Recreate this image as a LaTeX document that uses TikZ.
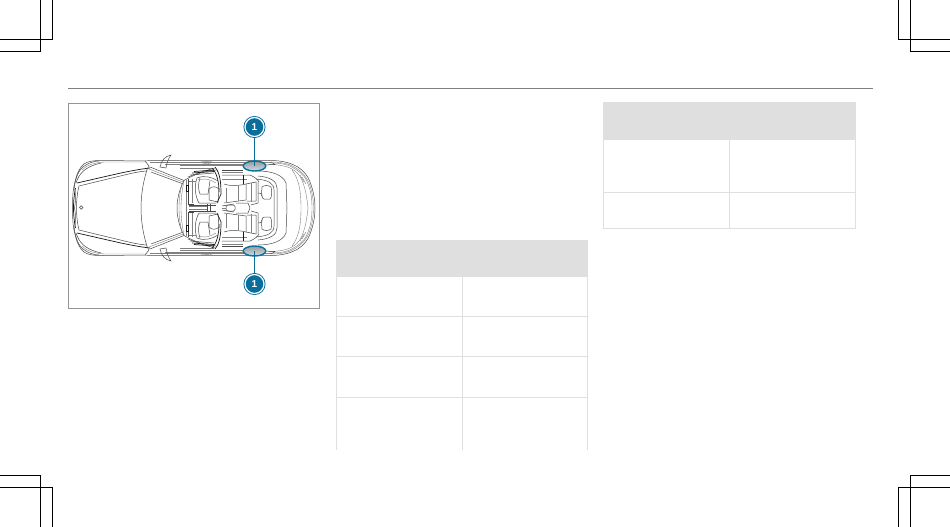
\documentclass[tikz,border=0pt]{standalone}
\usepackage{fontspec}
\usepackage{tikz}
\usetikzlibrary{calc,positioning,shapes.geometric}
\setsansfont{Liberation Sans}
\definecolor{calloutblue}{HTML}{0A6E9B}
\definecolor{tablegrey}{HTML}{DFDFDF}
\tikzset{
	cropline/.style={black,line width=1pt},
	ruleline/.style={draw=black!50,line width=.9pt},
	frameline/.style={draw=black!42,line width=.9pt},
	tableline/.style={draw=tablegrey,line width=1pt},
	carline/.style={black!72,line width=.5pt},
	cardark/.style={black!90,line width=.7pt},
	carthin/.style={black!50,line width=.4pt},
	spot/.style={ellipse,draw=calloutblue,line width=1.4pt,minimum width=22.5pt,minimum height=10pt,inner sep=0pt,top color=black!40,bottom color=calloutblue!22},
	badge/.style={circle,draw=calloutblue,fill=calloutblue,double=white,double distance=1.2pt,line width=.9pt,minimum size=19pt,inner sep=0pt,text=white,font=\sffamily\bfseries\fontsize{10}{10}\selectfont},
	leader/.style={calloutblue,line width=1.2pt},
}
\begin{document}
\begin{tikzpicture}[x=1pt,y=-1pt]
	\useasboundingbox (0,0) rectangle (950,527);

	\draw[cropline] (0,40) -- (52,40);
	\draw[cropline] (0,52) -- (40,52);
	\draw[cropline] (40,0) -- (40,52);
	\draw[cropline] (52,0) -- (52,40);
	\draw[cropline] (0,475) -- (40,475) -- (40,527);
	\draw[cropline] (0,487) -- (52,487) -- (52,527);
	\draw[cropline] (950,40) -- (898,40);
	\draw[cropline] (950,52) -- (910,52);
	\draw[cropline] (898,0) -- (898,40);
	\draw[cropline] (910,0) -- (910,52);
	\draw[cropline] (950,475) -- (910,475) -- (910,527);
	\draw[cropline] (950,487) -- (898,487) -- (898,527);

	\draw[ruleline] (68,88) -- (873,88);
	\draw[frameline] (68.5,103.5) rectangle (319.5,308);

	\fill[tablegrey] (336,240) rectangle (588,277);
	\draw[tableline] (336.5,277) -- (336.5,450);
	\draw[tableline] (462.5,277) -- (462.5,450);
	\draw[tableline] (587.5,277) -- (587.5,450);
	\foreach \rowy in {316.5,356.5,397.5}
		\draw[tableline] (336.5,\rowy) -- (587.5,\rowy);

	\fill[tablegrey] (603,102) rectangle (856,139.5);
	\draw[tableline] (603.5,139.5) -- (603.5,229);
	\draw[tableline] (729.5,139.5) -- (729.5,229);
	\draw[tableline] (855.5,139.5) -- (855.5,229);
	\draw[tableline] (603,192.5) -- (856,192.5);
	\draw[tableline] (603,228.5) -- (856,228.5);

	\foreach \s in {1,-1} {
		\begin{scope}[shift={(0,208)},yscale=\s]
			% body
			\draw[carline] (72.5,0) .. controls (72.5,10) and (73,20) .. (75,26) .. controls (77,35) and (80,41) .. (84,44) .. controls (88,47) and (94,47.5) .. (103,47.5) -- (145,47) -- (150,47.5) -- (270,47.5) .. controls (285,47.5) and (292,44) .. (297,41.5) .. controls (304,37) and (308,32) .. (310,26) .. controls (313,18) and (315,10) .. (315,0);
			\draw[carthin] (270,46) .. controls (285,46) and (291,43) .. (296,40) .. controls (303,35.5) and (307,30) .. (309,25) .. controls (312,17) and (313.5,9) .. (313.5,0);
			\draw[carthin] (270,45) .. controls (285,45) and (290,42.5) .. (296,38.5) .. controls (303,34) and (306,30) .. (308,24) .. controls (311,17) and (312,9) .. (312,0);
			\draw[carthin] (268,43.5) .. controls (282,43.5) and (290,41) .. (295,37) .. controls (302,32) and (306,20) .. (308,0);
			\draw[carthin] (150,45.5) -- (245,45.5);
			\draw[carthin] (165,44) -- (245,44);
			\draw[carthin] (180,42.5) -- (243,42.5);
			% front
			\draw[carline] (74,18) .. controls (75,30) and (79,38) .. (83,41) .. controls (88,45) and (94,47) .. (99,47);
			\draw[carline] (76,25) .. controls (79,34) and (84,41) .. (101,45);
			\draw[carthin] (82,38) .. controls (86,42) and (92,45) .. (104,46) -- (145,46);
			\draw[cardark] (77,25) -- (112,33) .. controls (125,36) and (140,39) .. (150,40);
			\draw[carline] (79,22) -- (112,30) .. controls (125,33) and (135,36) .. (146,37);
			\draw[carline] (79,22) .. controls (77,14) and (76.5,6) .. (76.5,0);
			\draw[cardark] (75.5,20) .. controls (74,12) and (73.5,6) .. (73.5,0);
			\draw[carline] (75,17) .. controls (75.5,12) and (76,8) .. (74.5,0);
			\draw[carline] (147,38) .. controls (143,26) and (141,12) .. (141,0);
			\draw[carline] (145,47) -- (149,42) -- (146.5,37.5);
			% mirror
			\draw[carline] (160,41) .. controls (161,47) and (165,52) .. (171,53) .. controls (168,49) and (167,45) .. (166,40) -- cycle;
			% pillar
			\draw[carline] (150,41) -- (184,27.5);
			\draw[carline] (151,36) -- (182,24.5);
			\draw[carthin] (149,39) -- (183,26);
			\draw[carline] (184,27.5) .. controls (179,18) and (177,8) .. (177,0);
			\draw[carthin] (182,24.5) .. controls (180,16) and (179,8) .. (179,0);
			\draw[carthin] (184,27) .. controls (182,18) and (181,8) .. (181,0);
			\draw[carthin] (186,28) -- (186,0);
			\draw[carline] (188,29) -- (188,4) -- (194,4);
			\draw[cardark] (186,23) -- (186,17) -- (188,17) -- (188,23) -- cycle;
			% dark bundle to the hoop
			\draw[carline] (184,27.5) .. controls (195,34) and (205,37) .. (216,38);
			\draw[carline] (188,31) .. controls (198,35) and (207,38) .. (215,40);
			\draw[cardark] (192,35) -- (214,36.5);
			\draw[cardark] (194,36.5) -- (214,38);
			\draw[carline] (190,33) -- (214,35);
			\draw[carthin] (180,40) -- (214,40);
			\draw[carthin] (200,45.8) .. controls (205,47) and (209,47) .. (213,45.8) .. controls (209,44) and (205,44) .. (200,45.8);
			% front seat
			\draw[carline] (197,30) .. controls (194,22) and (195,12) .. (199,5) -- (216,5);
			\draw[carline] (200,30) .. controls (198,24) and (198,19) .. (200,14) -- (208,14) -- (210,27);
			\draw[carthin] (192,29) -- (192,5);
			\draw[carthin] (189,27) -- (196,27);
			\draw[carline] (197,30) .. controls (204,33) and (212,31) .. (218,27);
			\draw[carthin] (198,28) .. controls (204,30) and (210,29) .. (216,25);
			\draw[carline] (209,19) -- (209,8) -- (218,6) -- (219,19) .. controls (216,22) and (212,22) .. (209,19);
			\draw[cardark] (212,40) .. controls (217,35) and (219,26) .. (219,16);
			\draw[cardark] (215,41) .. controls (220,35) and (221,26) .. (221,14) -- (217,5);
			\draw[carline] (189,3) -- (216,3);
			\draw[carthin] (189,1.5) -- (207,1.5);
			\draw[carline] (207,0) -- (207,4);
			\draw[carline] (210,0) -- (210,4);
			% rear
			\draw[carline] (222,38) -- (243,38);
			\draw[carthin] (222,36) -- (243,36);
			\draw[carline] (222,33) -- (250,33) .. controls (255,31) and (258,28) .. (259,26);
			\draw[carthin] (222,29) -- (247,29);
			\draw[carline] (224,24) .. controls (229,22) and (238,22) .. (246,24) -- (246,8) -- (224,5);
			\draw[carthin] (226,20) -- (226,6);
			\draw[carthin] (238,22) -- (238,7);
			\draw[carline] (236,5) -- (248,5) -- (250,0);
			\draw[carline] (246,24) -- (256,26) -- (256,7) -- (247,7);
			\draw[cardark] (243,33) -- (243,24);
			\draw[carthin] (251,25) -- (251,6);
			\draw[carline] (258,26) -- (258,5) -- (251,3);
			\draw[carline] (222,2) -- (234,4);
			\draw[carline] (258,15) .. controls (260,15) and (262,15) .. (262,12);
			% rear seat headrest
			\draw[carline] (262,21) .. controls (261,14) and (262,9) .. (264,9) -- (270,9) .. controls (272,10) and (272,18) .. (271,21) .. controls (269,23) and (264,23) .. (262,21);
			% deck
			\draw[carline] (258,32) .. controls (270,31) and (277,27) .. (277,20) -- (277,0);
			\draw[carline] (256,29) .. controls (268,28) and (274,25) .. (274,18) -- (274,0);
			\draw[carline] (258,37) .. controls (272,37) and (283,33) .. (286,25) -- (287,0);
			\draw[carthin] (265,41) -- (258,41);
			\draw[carthin] (292,38) .. controls (298,30) and (301,20) .. (301,0);
			\draw[carline] (262,45.5) -- (272,45.5) -- (275,43.5) -- (263,43) -- cycle;
			\draw[carthin] (304,26) -- (300,33);
			\draw[carthin] (306,24) -- (302,31);
		\end{scope}
	}
	\draw[carline] (81.3,207.5) circle (1.7);
	\draw[carline,rounded corners=1.5pt] (226,205) rectangle (235,211);
	\draw[carthin] (222,208) -- (226,208);

	\node[spot] (spottop) at (254.5,166) {};
	\node[spot] (spotbottom) at (254.5,251) {};
	\node[badge] (badgetop) at (254.5,127) {1};
	\node[badge] (badgebottom) at (254.5,284) {1};
	\draw[leader] (badgetop) -- (spottop.center);
	\draw[leader] (badgebottom) -- (spotbottom.center);
\end{tikzpicture}
\end{document}
